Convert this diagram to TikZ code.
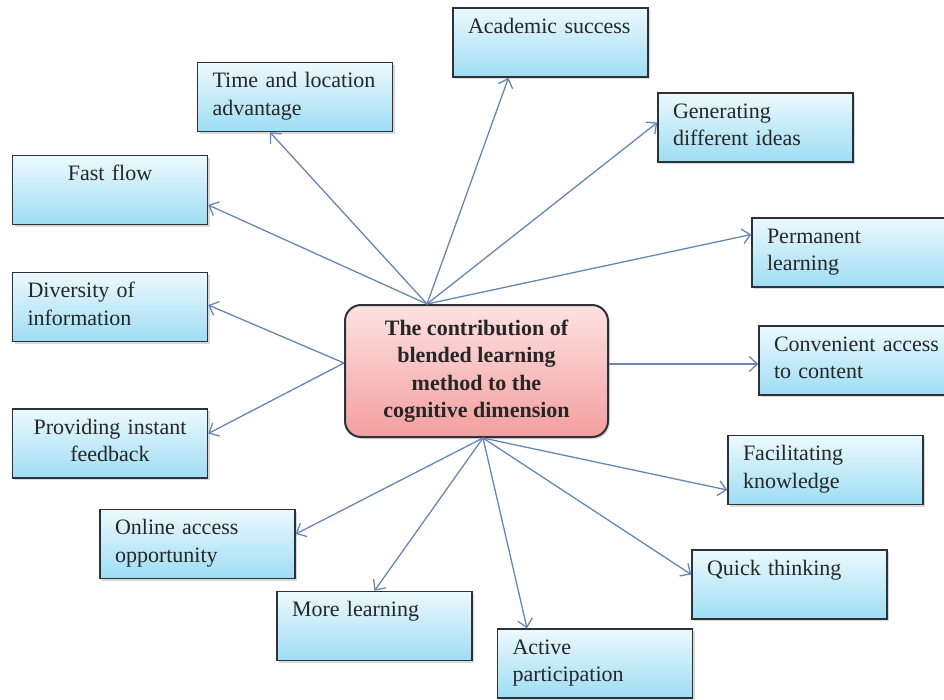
\documentclass[tikz,border=0pt]{standalone}
\usepackage{fontspec}
\setmainfont{Liberation Serif}
\usetikzlibrary{shadows,arrows.meta}
\definecolor{boxtop}{RGB}{236,249,253}
\definecolor{boxbot}{RGB}{158,221,244}
\definecolor{hubtop}{RGB}{253,226,226}
\definecolor{hubbot}{RGB}{244,158,158}
\definecolor{spokecol}{RGB}{104,134,178}
\definecolor{rim}{RGB}{45,50,58}

\begin{document}
\begin{tikzpicture}[x=1pt, y=-1pt, font=\fontsize{22}{27.5}\selectfont,
    idea/.style={draw=rim, line width=1.5pt, top color=boxtop, bottom color=boxbot,
        drop shadow={shadow xshift=2pt, shadow yshift=-2pt, opacity=0.3},
        text width=165pt, inner xsep=15pt, inner ysep=8pt,
        text height=17pt, text depth=36pt, align=left, text=black!85},
    ideac/.style={idea, align=center},
    hub/.style={draw=rim, line width=2pt, rounded corners=16pt, top color=hubtop, bottom color=hubbot,
        drop shadow={shadow xshift=2pt, shadow yshift=-2pt, opacity=0.3},
        minimum width=263pt, minimum height=132pt, align=center, font=\fontsize{22}{27.5}\selectfont\bfseries, text=black!85},
    spoke/.style={draw=spokecol, line width=1.3pt, -{Straight Barb[length=8pt,width=15pt]}},
    ]
\useasboundingbox (0,0) rectangle (944,699);

\node[hub] (c) at (476.5,371) {The contribution of\\blended learning\\method to the\\cognitive dimension};

\node[idea] (acad) at (550.5,42.5) {Academic success};
\node[idea] (time) at (295,97) {Time and location\\advantage};
\node[idea] (gen) at (755.5,127.5) {Generating\\different ideas};
\node[ideac] (fast) at (110,190) {Fast flow};
\node[idea] (perm) at (849.5,252.5) {Permanent\\learning};
\node[idea] (div) at (110,307) {Diversity of\\information};
\node[idea] (conv) at (856.5,360.5) {Convenient access\\to content};
\node[ideac] (prov) at (110,443.5) {Providing instant\\feedback};
\node[idea] (fac) at (825.5,470) {Facilitating\\knowledge};
\node[idea] (online) at (197.5,544) {Online access\\opportunity};
\node[idea] (quick) at (789.5,584.5) {Quick thinking};
\node[idea] (more) at (374.5,626) {More learning};
\node[idea] (active) at (595,663.5) {Active\\participation};

\coordinate (ctop) at ([xshift=-49.5pt]c.north);
\coordinate (cleft) at ([yshift=8pt]c.west);
\coordinate (cbot) at ([xshift=6.5pt]c.south);
\coordinate (cright) at ([yshift=7pt]c.east);

\draw[spoke] (ctop) -- ([xshift=-25pt]time.south);
\draw[spoke] (ctop) -- ([xshift=-42pt]acad.south);
\draw[spoke] (ctop) -- ([yshift=5pt]gen.west);
\draw[spoke] (ctop) -- ([yshift=18pt]perm.west);
\draw[spoke] (ctop) -- ([yshift=-15pt]fast.east);
\draw[spoke] (cleft) -- ([yshift=2pt]div.east);
\draw[spoke] (cleft) -- ([yshift=10pt]prov.east);
\draw[spoke] (cright) -- (cright -| conv.west);
\draw[spoke] (cbot) -- ([yshift=-20pt]fac.west);
\draw[spoke] (cbot) -- ([yshift=10pt]quick.west);
\draw[spoke] (cbot) -- ([xshift=-68pt]active.north);
\draw[spoke] (cbot) -- (more.north);
\draw[spoke] (cbot) -- ([yshift=10pt]online.east);
\end{tikzpicture}
\end{document}
